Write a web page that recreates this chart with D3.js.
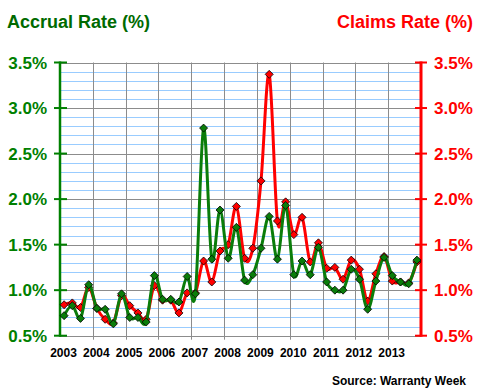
<!DOCTYPE html>
<html>
<head>
<meta charset="utf-8">
<script src="https://cdn.jsdelivr.net/npm/d3@7"></script>
<style>
  body { margin: 0; background: #fff; }
  text { font-family: "Liberation Sans", Arial, sans-serif; font-weight: bold; }
</style>
</head>
<body>
<svg id="chart"></svg>
<script>
// quarterly values, 2003 Q1 .. 2013 Q4
const years = [2003, 2004, 2005, 2006, 2007, 2008, 2009, 2010, 2011, 2012, 2013];
const accrualRate = [
  0.72, 0.83, 0.69, 1.06,
  0.80, 0.79, 0.63, 0.96,
  0.70, 0.70, 0.65, 1.16,
  0.90, 0.90, 0.87, 1.15,
  0.96, 2.78, 1.34, 1.88,
  1.35, 1.69, 1.11, 1.17,
  1.46, 1.81, 1.34, 1.93,
  1.17, 1.32, 1.17, 1.47,
  1.09, 1.00, 1.00, 1.23,
  1.12, 0.79, 1.10, 1.36,
  1.16, 1.09, 1.07, 1.33
];
const claimsRate = [
  0.84, 0.86, 0.81, 1.03,
  0.80, 0.68, 0.64, 0.94,
  0.83, 0.75, 0.68, 1.05,
  0.89, 0.89, 0.75, 0.97,
  0.97, 1.32, 1.09, 1.43,
  1.50, 1.92, 1.35, 1.46,
  2.20, 3.37, 1.76, 1.97,
  1.61, 1.80, 1.31, 1.52,
  1.24, 1.25, 1.12, 1.33,
  1.23, 0.88, 1.18, 1.37,
  1.10, 1.09, 1.08, 1.31
];
const majorTicks = [0.5, 1.0, 1.5, 2.0, 2.5, 3.0, 3.5];

const width = 480, height = 390;
const margin = {top: 62.5, right: 59, bottom: 54.3, left: 60};
const green = "#008000", red = "#ff0000";

const svg = d3.select("#chart").attr("width", width).attr("height", height);

const x = d3.scaleLinear().domain([2003, 2014]).range([margin.left, width - margin.right]);
const y = d3.scaleLinear().domain([0.5, 3.5]).range([height - margin.bottom, margin.top]);

const quarterX = i => x(2003 + Math.floor(i / 4) + ((i % 4) + 0.5) / 4);

// minor gridlines every 0.1%
const minor = d3.range(5, 36).map(d => d / 10).filter(d => Math.round(d * 10) % 5 !== 0);
svg.append("g").selectAll("line").data(minor).join("line")
  .attr("x1", x(2003)).attr("x2", x(2014))
  .attr("y1", d => Math.round(y(d)) + 0.5).attr("y2", d => Math.round(y(d)) + 0.5)
  .attr("stroke", "#99ccff").attr("stroke-width", 1);

// major gridlines
svg.append("g").selectAll("line").data(majorTicks).join("line")
  .attr("x1", x(2003)).attr("x2", x(2014))
  .attr("y1", d => Math.round(y(d)) + 0.5).attr("y2", d => Math.round(y(d)) + 0.5)
  .attr("stroke", "#8c8c8c").attr("stroke-width", 1);

// vertical year gridlines (extend a little below as tick marks)
svg.append("g").selectAll("line").data(years.slice(1)).join("line")
  .attr("x1", d => Math.round(x(d)) + 0.5).attr("x2", d => Math.round(x(d)) + 0.5)
  .attr("y1", y(3.5)).attr("y2", y(0.5) + 4)
  .attr("stroke", "#8c8c8c").attr("stroke-width", 1);

// year labels
svg.append("g").selectAll("text").data(years).join("text")
  .attr("x", d => x(d) + 3.5).attr("y", 357)
  .attr("text-anchor", "middle").attr("font-size", 12).attr("fill", "#000")
  .text(d => d);

// left axis (accrual)
const leftAxis = svg.append("g").attr("transform", `translate(${x(2003)},0)`);
leftAxis.append("line").attr("y1", y(3.5) - 1).attr("y2", y(0.5) + 1)
  .attr("stroke", green).attr("stroke-width", 2.5);
leftAxis.selectAll("line.tick").data(majorTicks).join("line").attr("class", "tick")
  .attr("x1", -6).attr("x2", 7).attr("y1", d => y(d)).attr("y2", d => y(d))
  .attr("stroke", green).attr("stroke-width", 2);
leftAxis.selectAll("text").data(majorTicks).join("text")
  .attr("x", -13).attr("y", d => y(d)).attr("dy", "0.36em")
  .attr("text-anchor", "end").attr("font-size", 17).attr("fill", green)
  .text(d => d3.format(".1f")(d) + "%");

// right axis (claims)
const rightAxis = svg.append("g").attr("transform", `translate(${x(2014)},0)`);
rightAxis.append("line").attr("y1", y(3.5) - 1).attr("y2", y(0.5) + 1)
  .attr("stroke", red).attr("stroke-width", 3);
rightAxis.selectAll("line.tick").data(majorTicks).join("line").attr("class", "tick")
  .attr("x1", -6).attr("x2", 6).attr("y1", d => y(d)).attr("y2", d => y(d))
  .attr("stroke", red).attr("stroke-width", 2);
rightAxis.selectAll("text").data(majorTicks).join("text")
  .attr("x", 13).attr("y", d => y(d)).attr("dy", "0.36em")
  .attr("text-anchor", "start").attr("font-size", 17).attr("fill", red)
  .text(d => d3.format(".1f")(d) + "%");

// series
const line = d3.line()
  .x((d, i) => quarterX(i))
  .y(d => y(d))
  .curve(d3.curveCatmullRom.alpha(0));

const diamond = r => `M0,${-r}L${r},0L0,${r}L${-r},0Z`;

function drawSeries(values, color) {
  const g = svg.append("g");
  g.append("path").datum(values)
    .attr("d", line).attr("fill", "none")
    .attr("stroke", color).attr("stroke-width", 3);
  g.selectAll("path.pt").data(values).join("path").attr("class", "pt")
    .attr("d", diamond(4))
    .attr("transform", (d, i) => `translate(${quarterX(i)},${y(d)})`)
    .attr("fill", color).attr("stroke", "#000").attr("stroke-width", 0.8);
}
drawSeries(claimsRate, red);
drawSeries(accrualRate, "#0a7d0a");

// titles
svg.append("text").attr("x", 7).attr("y", 28).attr("font-size", 18)
  .attr("fill", "#006a00").text("Accrual Rate (%)");
svg.append("text").attr("x", 473).attr("y", 28).attr("font-size", 18)
  .attr("text-anchor", "end").attr("fill", red).text("Claims Rate (%)");
svg.append("text").attr("x", 466).attr("y", 385).attr("font-size", 12)
  .attr("text-anchor", "end").attr("fill", "#000").text("Source: Warranty Week");
</script>
</body>
</html>
